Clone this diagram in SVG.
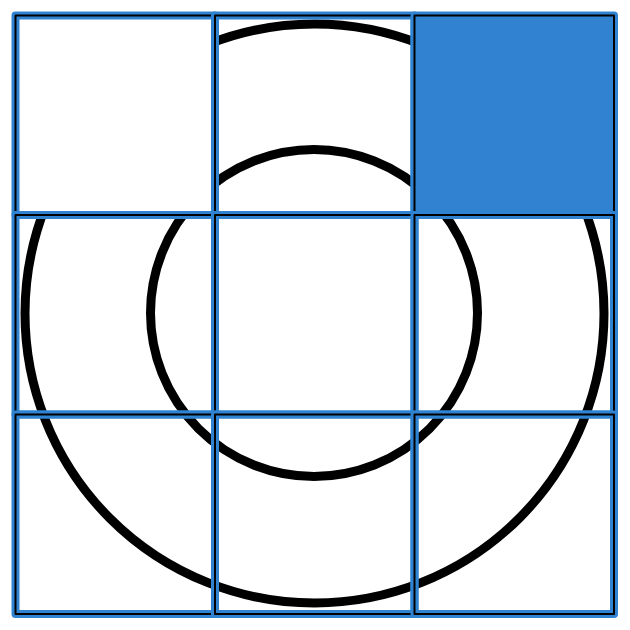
<svg xmlns="http://www.w3.org/2000/svg" width="630" height="630" viewBox="0 0 630 630">
<defs>
<style>
.ring{fill:none;stroke:#000;stroke-width:9}
.cell{stroke-linejoin:round}
.cell .b{stroke:#2f83d1;stroke-width:8}
.cell .k{fill:none;stroke:#000;stroke-width:2}
.none{fill:none}
.white{fill:#fff}
.blue{fill:#3182d0}
</style>
</defs>
<rect width="630" height="630" fill="#fff"/>
<g id="rings">
<circle class="ring" cx="314.5" cy="313.5" r="289.5"/>
<circle class="ring" cx="314" cy="313" r="163.5"/>
</g>
<g id="cell-r0c0" class="cell"><rect class="b white" x="15.5" y="15.5" width="199.5" height="199.5"/><rect class="k" x="15.5" y="15.5" width="199.5" height="199.5"/></g>
<g id="cell-r0c1" class="cell"><rect class="b none" x="215" y="15.5" width="199.5" height="199.5"/><rect class="k" x="215" y="15.5" width="199.5" height="199.5"/></g>
<g id="cell-r0c2" class="cell"><rect class="b blue" x="414.5" y="15.5" width="199.5" height="199.5"/><rect class="k" x="414.5" y="15.5" width="199.5" height="199.5"/></g>
<g id="cell-r1c0" class="cell"><rect class="b none" x="15.5" y="215" width="199.5" height="199.5"/><rect class="k" x="15.5" y="215" width="199.5" height="199.5"/></g>
<g id="cell-r1c1" class="cell"><rect class="b none" x="215" y="215" width="199.5" height="199.5"/><rect class="k" x="215" y="215" width="199.5" height="199.5"/></g>
<g id="cell-r1c2" class="cell"><rect class="b none" x="414.5" y="215" width="199.5" height="199.5"/><rect class="k" x="414.5" y="215" width="199.5" height="199.5"/></g>
<g id="cell-r2c0" class="cell"><rect class="b none" x="15.5" y="414.5" width="199.5" height="199.5"/><rect class="k" x="15.5" y="414.5" width="199.5" height="199.5"/></g>
<g id="cell-r2c1" class="cell"><rect class="b none" x="215" y="414.5" width="199.5" height="199.5"/><rect class="k" x="215" y="414.5" width="199.5" height="199.5"/></g>
<g id="cell-r2c2" class="cell"><rect class="b none" x="414.5" y="414.5" width="199.5" height="199.5"/><rect class="k" x="414.5" y="414.5" width="199.5" height="199.5"/></g>
<g id="connectors"/>
</svg>
